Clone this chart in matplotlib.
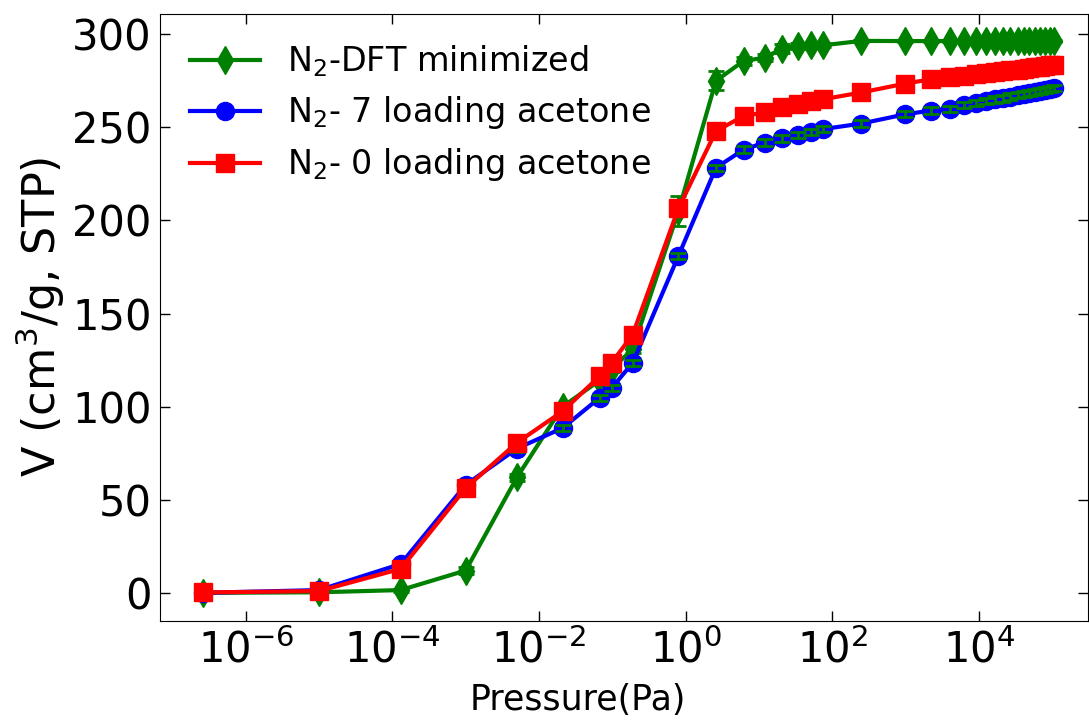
import numpy as np
import matplotlib
matplotlib.use("Agg")
from matplotlib import pyplot as plt

# pressures (Pa), shared by all three isotherms
pressure = [2.6e-7, 1e-5, 1.3e-4, 1e-3, 5e-3, 0.021, 0.067, 0.098, 0.19, 0.8,
            2.6, 6.2, 12, 21, 34, 52, 74, 250,
            1000, 2250, 4000, 6300, 9300, 12600, 16600, 21400, 27000, 34000,
            41700, 49000, 59000, 69000, 81000, 93000, 105000]

v_dft = [0, 0.3, 1.5, 12, 62, 100, 114, 120, 131, 205,
         275, 285.6, 287.4, 292.3, 293.7, 294, 294, 296.4,
         296.3, 296.3, 296.3, 296.3, 296.3, 296.3, 296.3, 296.3, 296.3, 296.3,
         296.3, 296.3, 296.3, 296.3, 296.3, 296.3, 296.3]
err_dft = [0.5, 0.5, 0.8, 2, 2, 1.5, 1.5, 1.5, 2, 8,
           5, 2, 2, 2.5, 1.5, 1, 1, 0.5,
           0.5, 0.5, 0.5, 0.5, 0.5, 0.5, 0.5, 0.5, 0.5, 0.5,
           0.5, 0.5, 0.5, 0.5, 0.5, 0.5, 0.5]

v_7 = [0, 1.5, 15.5, 58, 77.5, 88.5, 104.7, 110, 123.5, 181,
       228.3, 238, 241.8, 244, 245.9, 247.5, 249, 252,
       257, 259, 260, 262, 263, 264, 265, 265.5, 266.5, 267.5,
       268, 268.5, 269, 269.5, 270, 270.5, 271]
err_7 = [1.7] * len(v_7)

v_0 = [0.2, 1, 12.9, 56.3, 80.6, 97.5, 116.3, 123.5, 138.7, 206.5,
       248, 256, 258, 261, 262.4, 264, 265, 268.7,
       273.5, 275.8, 277, 277.8, 278.5, 279, 279.5, 280, 280.5, 281,
       281.5, 282, 282.3, 282.6, 282.9, 283.2, 283.5]

labels = [r'N$_2$-DFT minimized', r'N$_2$- 7 loading acetone', r'N$_2$- 0 loading acetone']

fig = plt.figure(figsize=(10.89, 7.21), dpi=100)
ax = fig.add_axes([0.147, 0.139, 0.852, 0.842])

ax.plot(pressure, v_dft, color='g', marker='d', markersize=14, lw=3, label=labels[0], zorder=2)
ax.errorbar(pressure, v_dft, yerr=err_dft, fmt='none', ecolor='g', capsize=6, capthick=2, elinewidth=2, zorder=2.1)
ax.plot(pressure, v_7, color='b', marker='o', markersize=13, lw=3, label=labels[1], zorder=3)
ax.errorbar(pressure, v_7, yerr=err_7, fmt='none', ecolor='g', capsize=6, capthick=2, elinewidth=2, zorder=3.1)
ax.plot(pressure, v_0, color='r', marker='s', markersize=13, lw=3, label=labels[2], zorder=4)

ax.set_xscale('log')
ax.set_xlim(10 ** -7.17, 10 ** 5.49)
ax.set_ylim(-15, 311)
ax.set_xticks([1e-6, 1e-4, 1e-2, 1e0, 1e2, 1e4])
ax.xaxis.set_minor_locator(matplotlib.ticker.NullLocator())
ax.set_yticks([0, 50, 100, 150, 200, 250, 300])
ax.tick_params(direction='in', top=True, right=True, length=7, width=1, labelsize=30, pad=6)

ax.set_xlabel('Pressure(Pa)', fontsize=25, labelpad=8, x=0.45)
ax.set_ylabel(r'V (cm$^3$/g, STP)', fontsize=32, labelpad=4)

ax.legend(loc='upper left', frameon=False, fontsize=24, handlelength=2.1, labelspacing=0.45)

fig.savefig('out.png', dpi=100)
